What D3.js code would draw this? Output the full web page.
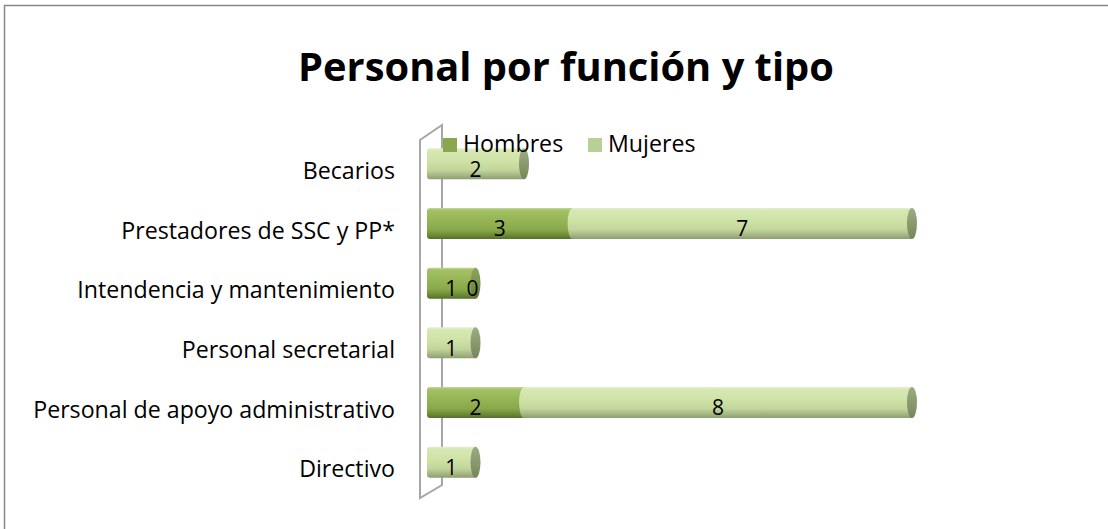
<!DOCTYPE html>
<html>
<head>
<meta charset="utf-8">
<script src="https://cdn.jsdelivr.net/npm/d3@7"></script>
<style>
  body { margin: 0; background: #fff; }
  text { font-family: "Open Sans", sans-serif; fill: #000; }
</style>
</head>
<body>
<div id="chart"></div>
<script>
const categories = [
  "Becarios",
  "Prestadores de SSC y PP*",
  "Intendencia y mantenimiento",
  "Personal secretarial",
  "Personal de apoyo administrativo",
  "Directivo"
];
const hombres = [null, 3, 1, null, 2, null];
const mujeres = [2, 7, 0, 1, 8, 1];
const seriesNames = ["Hombres", "Mujeres"];
const xTicks = [0, 10];

const W = 1108, H = 529;

const svg = d3.select("#chart")
  .append("svg")
  .attr("width", W)
  .attr("height", H);

// scale a text's font size so it spans the wanted width
function fit(sel, size, width) {
  sel.style("font-size", size + "px");
  const len = sel.node().getComputedTextLength();
  return size * width / len;
}

// chart frame (right and bottom cut off in the picture)
svg.append("path")
  .attr("d", "M4.5,529 V5.5 H1108")
  .attr("fill", "none")
  .attr("stroke", "#888")
  .attr("stroke-width", 1.5);

const title = svg.append("text")
  .attr("x", 566)
  .attr("y", 81)
  .attr("text-anchor", "middle")
  .style("font-weight", "bold")
  .text("Personal por función y tipo");
title.style("font-size", fit(title, 36, 536) + "px");

const x = d3.scaleLinear().domain(xTicks).range([427, 912]);
const y = d3.scaleBand()
  .domain(categories)
  .range([134, 492])
  .paddingInner(0.48)
  .paddingOuter(0.24);

const defs = svg.append("defs");
function grad(id, stops) {
  const g = defs.append("linearGradient")
    .attr("id", id)
    .attr("x1", 0).attr("y1", 0).attr("x2", 0).attr("y2", 1);
  stops.forEach(s => g.append("stop").attr("offset", s[0]).attr("stop-color", s[1]));
}
grad("gH", [[0, "#c3d59c"], [0.08, "#a3c165"], [0.35, "#97b757"], [0.7, "#89a84a"], [0.88, "#6c8a36"], [1, "#566f2a"]]);
grad("gM", [[0, "#e4eed2"], [0.08, "#d6e8b2"], [0.4, "#cfe3a7"], [0.7, "#c2d69b"], [0.88, "#a3b583"], [1, "#8c9c70"]]);
grad("cH", [[0, "#8ea562"], [0.5, "#7a934a"], [1, "#5f7638"]]);
grad("cM", [[0, "#9dab83"], [0.5, "#8a9a6e"], [1, "#76865c"]]);

// 3D wall behind the bars
const x0 = x(0);
const [yTop, yBot] = y.range();
svg.append("path")
  .attr("d", `M${x0 + 15},${yTop - 9} L${x0 - 7},${yTop + 6} V${yBot + 6} L${x0 + 15},${yBot - 7} Z`)
  .attr("fill", "none")
  .attr("stroke", "#a6a6a6")
  .attr("stroke-width", 2);

const rows = categories.map((c, i) => ({
  cat: c,
  segs: [
    { s: 0, v: hombres[i] || 0, label: hombres[i], x0: 0 },
    { s: 1, v: mujeres[i] || 0, label: mujeres[i], x0: hombres[i] || 0 }
  ]
}));

const bh = y.bandwidth();
const capRx = 5;

const row = svg.selectAll("g.row")
  .data(rows)
  .enter()
  .append("g")
  .attr("class", "row")
  .attr("transform", d => "translate(0," + y(d.cat) + ")");

row.each(function (d) {
  const g = d3.select(this);
  d.segs.forEach(sg => {
    if (sg.v <= 0) return;
    const xa = x(sg.x0), xb = x(sg.x0 + sg.v);
    const body = g.append("path")
      .attr("fill", sg.s === 0 ? "url(#gH)" : "url(#gM)");
    if (sg.x0 === 0) {
      body.attr("d", `M${xa + 3},0 H${xb} V${bh} H${xa + 3} Q${xa},${bh} ${xa},${bh - 3} V3 Q${xa},0 ${xa + 3},0 Z`);
    } else {
      body.attr("d", `M${xa},0 H${xb} V${bh} H${xa} A${capRx},${bh / 2} 0 0 1 ${xa},0 Z`);
    }
    g.append("ellipse")
      .attr("cx", xb)
      .attr("cy", bh / 2)
      .attr("rx", capRx)
      .attr("ry", bh / 2)
      .attr("fill", sg.s === 0 ? "url(#cH)" : "url(#cM)");
  });
  d.segs.forEach(sg => {
    if (sg.label === null) return;
    g.append("text")
      .attr("x", x(sg.x0 + sg.v / 2) - (sg.v === 0 ? 3 : 0))
      .attr("y", bh / 2 + 13)
      .attr("text-anchor", "middle")
      .style("font-size", "21px")
      .text(sg.label);
  });
});

// category labels
const catLabels = svg.append("g")
  .selectAll("text")
  .data(categories)
  .enter()
  .append("text")
  .attr("x", 395)
  .attr("y", d => y(d) + bh / 2 + 15)
  .attr("text-anchor", "end")
  .text(d => d);
const labelSize = fit(catLabels.filter((d, i) => i === 4), 20, 362);
catLabels.style("font-size", labelSize + "px");

// legend
const legendColors = ["#8aa64e", "#b8cf95"];
const legendX = [443, 588];
const legend = svg.append("g")
  .selectAll("g")
  .data(seriesNames)
  .enter()
  .append("g")
  .attr("transform", (d, i) => "translate(" + legendX[i] + ",138)");
legend.append("rect")
  .attr("width", 14)
  .attr("height", 14)
  .attr("fill", (d, i) => legendColors[i]);
legend.append("text")
  .attr("x", 20)
  .attr("y", 14)
  .style("font-size", labelSize + "px")
  .text(d => d);
</script>
</body>
</html>
